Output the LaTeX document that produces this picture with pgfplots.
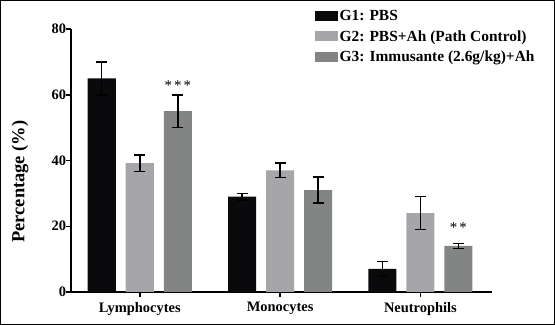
\documentclass[border=0pt]{standalone}
\usepackage{fontspec}
\setmainfont{Liberation Serif}
\usepackage{pgfplots}
\pgfplotsset{compat=1.18}
\definecolor{gA}{HTML}{0A0A0C}
\definecolor{gB}{HTML}{A6A5AA}
\definecolor{gC}{HTML}{838584}
\begin{document}
\begin{tikzpicture}
\begin{axis}[
  at={(0,0)}, anchor=south west,
  scale only axis, width=421bp, height=263bp,
  ymin=0, ymax=80, xmin=-0.49, xmax=2.51,
  axis lines=left, axis line style={line width=1.6bp, black, -},
  ytick={0,20,40,60,80},
  xtick={0,1,2}, xticklabels={Lymphocytes,Monocytes,Neutrophils},
  tick align=outside, major tick length=5bp,
  tick style={line width=1.5bp, black},
  /pgf/number format/assume math mode=true,
  ticklabel style={font=\bfseries\fontsize{14.5}{16}\selectfont},
  yticklabel style={xshift=3.5bp},
  xticklabel style={yshift=-2bp},
  ylabel={Percentage (\%)},
  ylabel style={font=\bfseries\fontsize{18.5}{20}\selectfont, at={(axis description cs:-0.121,0.42)}, anchor=center, rotate=0},
  ybar, bar width=0.2,
  error bars/error bar style={line width=1.5bp, black},
  error bars/error mark options={rotate=90, mark size=5.5bp, line width=1.5bp, black},
  legend style={draw=none, fill=none, at={(axis description cs:0.578,1.08)}, anchor=north west,
    font=\bfseries\fontsize{15.5}{17}\selectfont, row sep=4.5bp, inner sep=0pt},
  legend cell align=left,
  legend image code/.code={\fill[#1,draw=none] (0bp,-5bp) rectangle (23bp,5bp);},
]
\addplot[fill=gA, draw=none, bar shift=-0.271, error bars/.cd, y dir=both, y explicit]
  coordinates {(0,65) +- (0,5) (1,29) +- (0,1) (2,7) +- (0,2.3)};
\addplot[fill=gB, draw=none, bar shift=0, error bars/.cd, y dir=both, y explicit]
  coordinates {(0,39.2) +- (0,2.5) (1,37) +- (0,2.2) (2,24) +- (0,5)};
\addplot[fill=gC, draw=none, bar shift=0.271, error bars/.cd, y dir=both, y explicit]
  coordinates {(0,55) +- (0,5) (1,31) +- (0,4) (2,14) +- (0,0.7)};
\legend{G1: PBS, G2: PBS+Ah (Path Control), G3: Immusante (2.6g/kg)+Ah}
\node[font=\fontsize{15}{17}\selectfont, anchor=base, inner sep=0pt] at (axis cs:0.271,61.2) {*\hspace{2bp}*\hspace{2bp}*};
\node[font=\fontsize{15}{17}\selectfont, anchor=base, inner sep=0pt] at (axis cs:2.271,18.0) {*\hspace{2bp}*};
\end{axis}
\draw[line width=1.5bp, black] (-70.25bp,-32.25bp) rectangle (483.25bp,291.25bp);
\end{tikzpicture}
\end{document}
